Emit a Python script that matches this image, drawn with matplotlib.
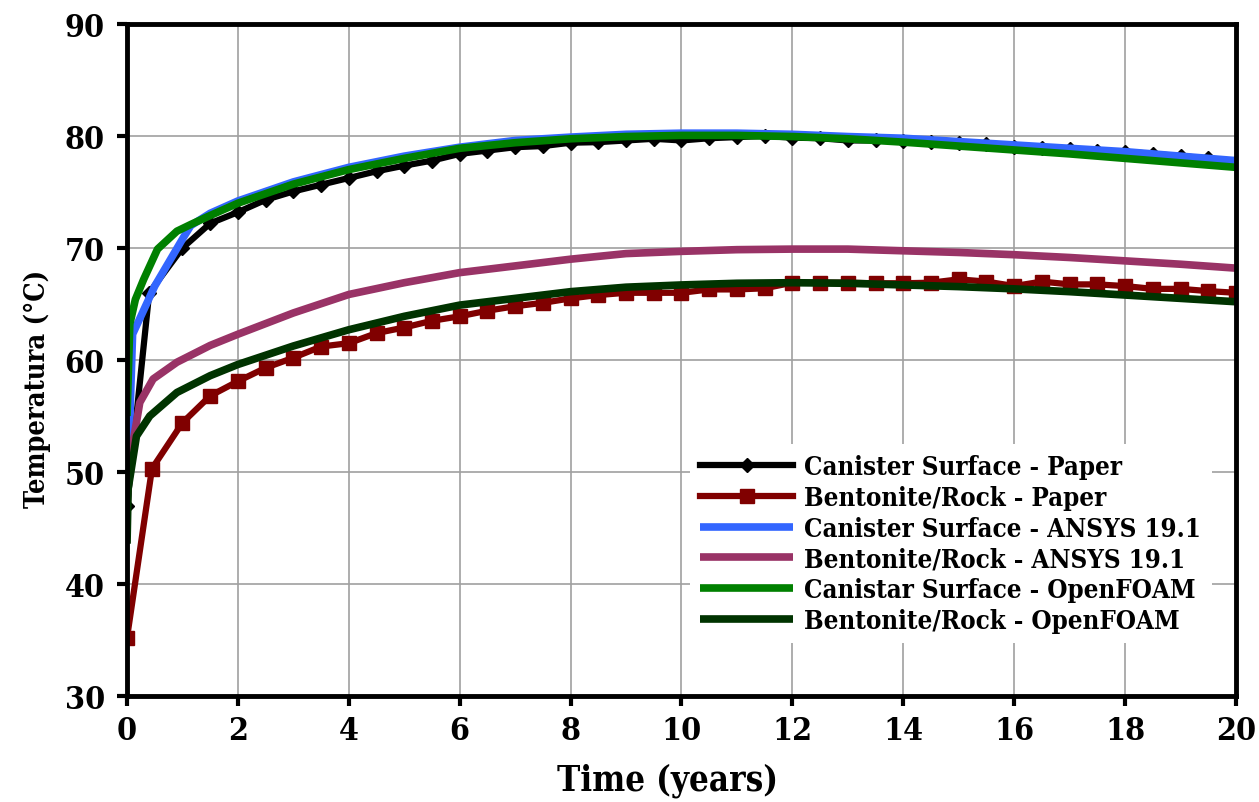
import matplotlib
matplotlib.use('Agg')
import matplotlib.pyplot as plt
import numpy as np

plt.rcParams['font.family'] = ['DejaVu Serif']
plt.rcParams['font.stretch'] = 'condensed'

# 论文数据：罐体表面 (每半年一个点)
t_can_paper = [0, 0.4, 1, 1.5, 2, 2.5, 3, 3.5, 4, 4.5, 5, 5.5, 6, 6.5, 7, 7.5, 8, 8.5, 9, 9.5,
               10, 10.5, 11, 11.5, 12, 12.5, 13, 13.5, 14, 14.5, 15, 15.5, 16, 16.5, 17, 17.5,
               18, 18.5, 19, 19.5, 20]
T_can_paper = [47.0, 66.0, 70.0, 72.2, 73.2, 74.3, 75.05, 75.65, 76.25, 76.85, 77.35, 77.8,
               78.4, 78.7, 79.0, 79.1, 79.4, 79.45, 79.6, 79.75, 79.6, 79.8, 79.9, 80.0, 79.85,
               79.8, 79.6, 79.6, 79.55, 79.5, 79.35, 79.25, 79.05, 78.95, 78.8, 78.7, 78.6,
               78.4, 78.2, 78.0, 77.7]

# 论文数据：膨润土/岩石界面
t_ben_paper = [0, 0.45, 1, 1.5, 2, 2.5, 3, 3.5, 4, 4.5, 5, 5.5, 6, 6.5, 7, 7.5, 8, 8.5, 9, 9.5,
               10, 10.5, 11, 11.5, 12, 12.5, 13, 13.5, 14, 14.5, 15, 15.5, 16, 16.5, 17, 17.5,
               18, 18.5, 19, 19.5, 20]
T_ben_paper = [35.2, 50.3, 54.4, 56.8, 58.1, 59.3, 60.2, 61.2, 61.5, 62.4, 62.9, 63.5, 63.9,
               64.4, 64.8, 65.1, 65.5, 65.8, 66.0, 66.0, 66.0, 66.3, 66.3, 66.4, 66.9, 66.9,
               66.9, 66.85, 66.85, 66.9, 67.2, 67.0, 66.6, 67.0, 66.75, 66.75, 66.6, 66.35,
               66.35, 66.15, 66.0]

# ANSYS 19.1 结果
t_can_ansys = [0, 0.1, 0.5, 1.0, 1.15, 1.5, 2, 3, 4, 5, 6, 7, 8, 9, 10, 11, 12, 13, 14, 15,
               16, 17, 18, 19, 20]
T_can_ansys = [47.0, 62.3, 66.6, 70.8, 72.0, 73.1, 74.2, 75.9, 77.2, 78.2, 79.0, 79.6, 79.9,
               80.15, 80.25, 80.25, 80.15, 79.95, 79.8, 79.5, 79.2, 78.9, 78.6, 78.2, 77.8]

t_ben_ansys = [0, 0.05, 0.23, 0.47, 0.9, 1.5, 2, 3, 4, 5, 6, 7, 8, 9, 10, 11, 12, 13, 14, 15,
               16, 17, 18, 19, 20]
T_ben_ansys = [47.0, 50.9, 56.2, 58.3, 59.8, 61.3, 62.3, 64.2, 65.85, 66.9, 67.8, 68.4, 69.0,
               69.5, 69.7, 69.85, 69.9, 69.9, 69.75, 69.6, 69.4, 69.15, 68.85, 68.55, 68.2]

# OpenFOAM 结果
t_can_foam = [0, 0.05, 0.15, 0.3, 0.55, 0.9, 1.15, 1.5, 2, 3, 4, 5, 6, 7, 8, 9, 10, 11, 12,
              13, 14, 15, 16, 17, 18, 19, 20]
T_can_foam = [55.0, 63.2, 65.4, 67.2, 69.9, 71.5, 72.1, 72.9, 74.0, 75.7, 77.0, 78.0, 78.9,
              79.4, 79.75, 79.95, 80.05, 80.05, 79.95, 79.75, 79.45, 79.1, 78.75, 78.4, 78.0,
              77.6, 77.2]

t_ben_foam = [0, 0.02, 0.17, 0.41, 0.9, 1.5, 2, 3, 4, 5, 6, 7, 8, 9, 10, 11, 12, 13, 14, 15,
              16, 17, 18, 19, 20]
T_ben_foam = [43.6, 48.5, 53.2, 55.0, 57.1, 58.6, 59.6, 61.25, 62.7, 63.9, 64.9, 65.5, 66.1,
              66.5, 66.7, 66.85, 66.9, 66.85, 66.7, 66.55, 66.35, 66.1, 65.8, 65.5, 65.2]

fig = plt.figure(figsize=(12.59, 8.03), dpi=100)
ax = fig.add_axes([0.1009, 0.132, 0.8808, 0.8369])

ax.plot(t_can_paper, T_can_paper, color='black', lw=4.5, marker='D', ms=7.5,
        label='Canister Surface - Paper')
ax.plot(t_ben_paper, T_ben_paper, color='#800000', lw=4.5, marker='s', ms=9.5,
        label='Bentonite/Rock - Paper')
ax.plot(t_can_ansys, T_can_ansys, color='#3366ff', lw=5.5, solid_capstyle='butt',
        label='Canister Surface - ANSYS 19.1')
ax.plot(t_ben_ansys, T_ben_ansys, color='#993366', lw=5.5, solid_capstyle='butt',
        label='Bentonite/Rock - ANSYS 19.1')
ax.plot(t_can_foam, T_can_foam, color='#008000', lw=5.5, solid_capstyle='butt',
        label='Canistar Surface - OpenFOAM')
ax.plot(t_ben_foam, T_ben_foam, color='#003300', lw=5.5, solid_capstyle='butt',
        label='Bentonite/Rock - OpenFOAM')

ax.set_xlim(0, 20)
ax.set_ylim(30, 90)
ax.set_xticks(np.arange(0, 21, 2))
ax.set_yticks(np.arange(30, 91, 10))
ax.grid(True, color='#a0a0a0', lw=1.2)
ax.set_axisbelow(True)

for sp in ax.spines.values():
    sp.set_linewidth(3.5)
    sp.set_color('black')
ax.tick_params(direction='out', length=7, width=3, labelsize=23)
ax.tick_params(axis='y', pad=9)
ax.tick_params(axis='x', pad=7)
for lab in ax.get_xticklabels() + ax.get_yticklabels():
    lab.set_fontweight('bold')

ax.set_xlabel('Time (years)', fontsize=25, fontweight='bold')
ax.set_ylabel('Temperatura (°C)', fontsize=19.5, fontweight='bold')
ax.xaxis.set_label_coords(0.487, -0.099)
ax.yaxis.set_label_coords(-0.069, 0.458)

leg = ax.legend(loc='lower right', bbox_to_anchor=(0.978, 0.079), borderaxespad=0,
                frameon=True, fancybox=False, edgecolor='none', framealpha=1,
                handlelength=3.6, handletextpad=0.45, labelspacing=0.22, numpoints=1,
                prop={'weight': 'bold', 'size': 18.5})

fig.savefig('out.png', dpi=100)
